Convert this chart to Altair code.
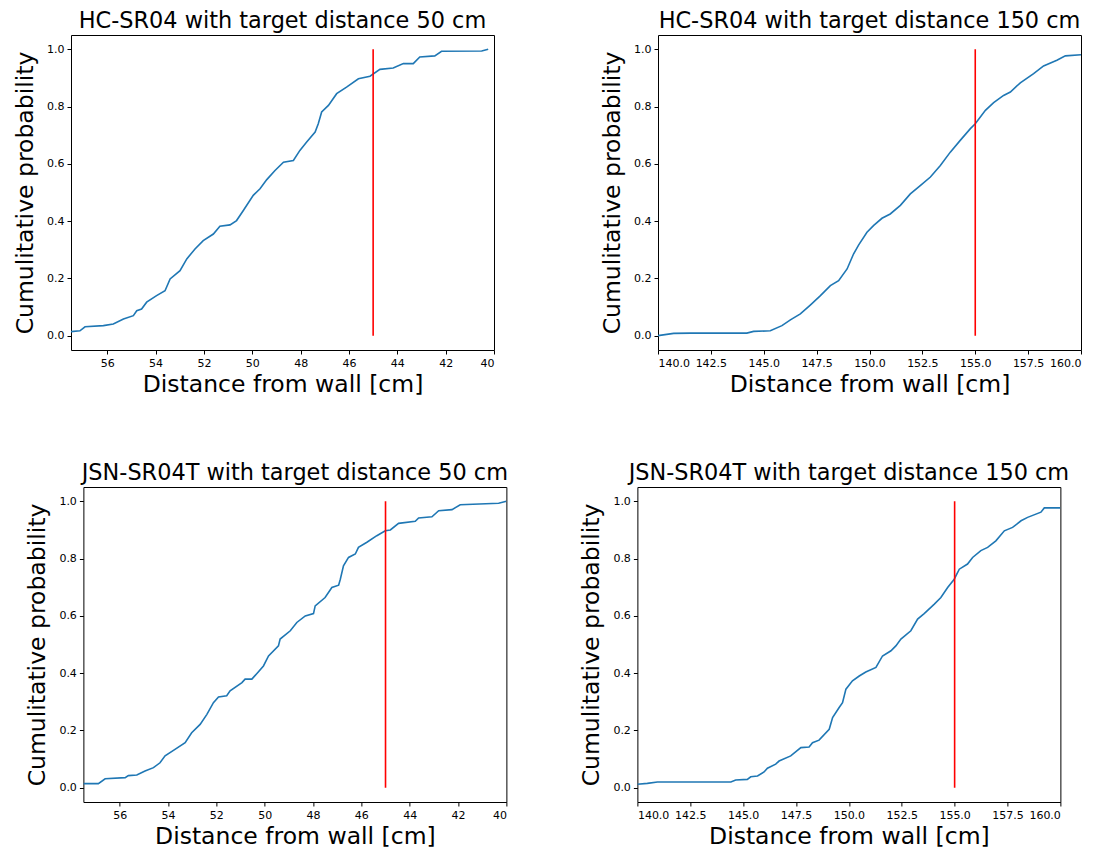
import altair as alt
import pandas as pd

# ---- data ----
hc50_x = [57.5, 57.13, 56.92, 56.16, 55.75, 55.33, 54.92, 54.78, 54.58, 54.37, 53.96, 53.61, 53.40,
          52.99, 52.71, 52.37, 52.03, 51.61, 51.34, 50.92, 50.65, 50.37, 49.96, 49.68, 49.40, 49.06,
          48.71, 48.30, 48.03, 47.75, 47.40, 47.27, 47.13, 46.85, 46.51, 46.10, 45.61, 45.13, 44.72,
          44.17, 43.75, 43.34, 43.07, 42.45, 42.17, 40.51, 40.24]
hc50_p = [0.014, 0.017, 0.031, 0.035, 0.041, 0.058, 0.070, 0.087, 0.093, 0.117, 0.140, 0.157, 0.198,
          0.227, 0.268, 0.303, 0.332, 0.355, 0.382, 0.387, 0.402, 0.437, 0.490, 0.513, 0.545, 0.577,
          0.606, 0.612, 0.647, 0.676, 0.711, 0.740, 0.781, 0.804, 0.845, 0.868, 0.897, 0.906, 0.930,
          0.935, 0.950, 0.950, 0.973, 0.977, 0.993, 0.994, 1.000]

hc150_x = [140.0, 140.74, 141.53, 143.1, 144.2, 144.52, 145.31, 145.86, 146.26, 146.73, 147.2, 147.68,
           148.15, 148.54, 148.94, 149.25, 149.49, 149.88, 150.2, 150.59, 150.98, 151.46, 151.93, 152.4,
           152.88, 153.35, 153.82, 154.29, 154.77, 155.0, 155.48, 155.87, 156.34, 156.66, 157.13, 157.76,
           158.23, 158.86, 159.26, 160.0]
hc150_p = [0.000, 0.008, 0.009, 0.009, 0.009, 0.015, 0.017, 0.035, 0.055, 0.076, 0.107, 0.140,
           0.175, 0.192, 0.233, 0.286, 0.317, 0.361, 0.385, 0.410, 0.425, 0.455, 0.495, 0.524,
           0.554, 0.594, 0.641, 0.682, 0.723, 0.740, 0.787, 0.814, 0.839, 0.851, 0.883, 0.915,
           0.942, 0.962, 0.977, 0.981]

jsn50_x = [57.5, 56.88, 56.6, 55.77, 55.64, 55.29, 54.95, 54.60, 54.33, 54.12, 53.71, 53.29, 53.02,
           52.67, 52.39, 52.12, 51.91, 51.57, 51.43, 50.94, 50.81, 50.53, 50.32, 50.05, 49.84, 49.43,
           49.36, 48.94, 48.67, 48.32, 47.98, 47.91, 47.50, 47.22, 46.94, 46.87, 46.74, 46.53, 46.25,
           46.12, 45.77, 45.36, 45.01, 44.80, 44.46, 43.77, 43.63, 43.08, 42.80, 42.25, 41.91, 40.32, 40.0]
jsn50_p = [0.014, 0.014, 0.031, 0.035, 0.042, 0.044, 0.058, 0.070, 0.087, 0.111, 0.134, 0.157, 0.192,
           0.221, 0.256, 0.297, 0.317, 0.321, 0.338, 0.367, 0.379, 0.379, 0.399, 0.425, 0.460, 0.495,
           0.519, 0.548, 0.577, 0.600, 0.608, 0.635, 0.664, 0.699, 0.707, 0.728, 0.775, 0.804, 0.816,
           0.839, 0.857, 0.880, 0.897, 0.900, 0.923, 0.930, 0.942, 0.946, 0.967, 0.971, 0.988, 0.993, 1.000]

jsn150_x = [140.0, 140.47, 140.95, 143.0, 144.42, 144.65, 145.2, 145.36, 145.68, 145.99, 146.15, 146.54,
            146.7, 147.25, 147.73, 148.12, 148.28, 148.59, 149.07, 149.23, 149.54, 149.7, 149.86, 150.17,
            150.49, 150.8, 151.28, 151.59, 151.99, 152.22, 152.46, 152.93, 153.25, 153.56, 154.04, 154.35,
            154.67, 154.98, 155.22, 155.61, 155.85, 156.24, 156.56, 156.95, 157.35, 157.74, 158.14, 158.45,
            159.08, 159.24, 160.0]
jsn150_p = [0.012, 0.015, 0.020, 0.020, 0.020, 0.027, 0.029, 0.038, 0.041, 0.055, 0.068, 0.082,
            0.093, 0.111, 0.140, 0.142, 0.157, 0.166, 0.204, 0.245, 0.280, 0.297, 0.344, 0.373,
            0.390, 0.404, 0.420, 0.460, 0.478, 0.495, 0.519, 0.548, 0.589, 0.608, 0.641, 0.664,
            0.699, 0.728, 0.763, 0.781, 0.804, 0.828, 0.839, 0.862, 0.897, 0.909, 0.932, 0.944,
            0.962, 0.977, 0.977]

titles = ["HC-SR04 with target distance 50 cm", "HC-SR04 with target distance 150 cm",
          "JSN-SR04T with target distance 50 cm", "JSN-SR04T with target distance 150 cm"]
targets = [45, 155, 45, 155]
near_ticks = [40, 42, 44, 46, 48, 50, 52, 54, 56]
far_ticks = [140.0, 142.5, 145.0, 147.5, 150.0, 152.5, 155.0, 157.5, 160.0]
y_ticks = [0.0, 0.2, 0.4, 0.6, 0.8, 1.0]

W, H = 423, 315


def panel(xs, ps, target, title, near):
    df = pd.DataFrame({"d": xs, "p": ps})
    if near:
        xscale = alt.Scale(domain=[40, 57.5], reverse=True, nice=False, zero=False)
        xaxis = alt.Axis(values=near_ticks, format="d", title="Distance from wall [cm]")
    else:
        xscale = alt.Scale(domain=[140, 160], nice=False, zero=False)
        xaxis = alt.Axis(values=far_ticks, format=".1f", title="Distance from wall [cm]")
    yscale = alt.Scale(domain=[-0.05, 1.05], nice=False, zero=False)
    yaxis = alt.Axis(values=y_ticks, format=".1f", title="Cumulitative probability")
    line = alt.Chart(df).mark_line(color="#1f77b4", strokeWidth=1.6, clip=True).encode(
        x=alt.X("d:Q", scale=xscale, axis=xaxis),
        y=alt.Y("p:Q", scale=yscale, axis=yaxis),
        order="d:Q",
    )
    rdf = pd.DataFrame({"d": [target], "y0": [0.0], "y1": [1.0]})
    rule = alt.Chart(rdf).mark_rule(color="#ff0000", strokeWidth=1.6).encode(
        x="d:Q", y="y0:Q", y2="y1:Q"
    )
    return alt.layer(line, rule).properties(width=W, height=H, title=title)


p1 = panel(hc50_x, hc50_p, targets[0], titles[0], True)
p2 = panel(hc150_x, hc150_p, targets[1], titles[1], False)
p3 = panel(jsn50_x, jsn50_p, targets[2], titles[2], True)
p4 = panel(jsn150_x, jsn150_p, targets[3], titles[3], False)

row1 = alt.hconcat(p1, p2, spacing=105)
row2 = alt.hconcat(p3, p4, spacing=70)
chart = alt.vconcat(row1, row2, spacing=65, center=True).properties(
    padding={"left": 5, "top": 1, "right": 5, "bottom": 5}
).configure_axis(
    labelFont="DejaVu Sans", labelFontSize=11, labelColor="#000",
    titleFont="DejaVu Sans", titleFontSize=23.5, titleFontWeight="normal", titleColor="#000",
    tickColor="#000", tickSize=4, labelPadding=3, grid=False, domain=False,
).configure_axisX(titlePadding=4).configure_axisY(titlePadding=9).configure_view(
    stroke="#000", strokeWidth=1
).configure_title(
    font="DejaVu Sans", fontSize=22.4, fontWeight="normal", color="#000",
    baseline="alphabetic", offset=3, anchor="middle"
)

chart.save("out.html", embed_options={"renderer": "svg", "actions": False})
